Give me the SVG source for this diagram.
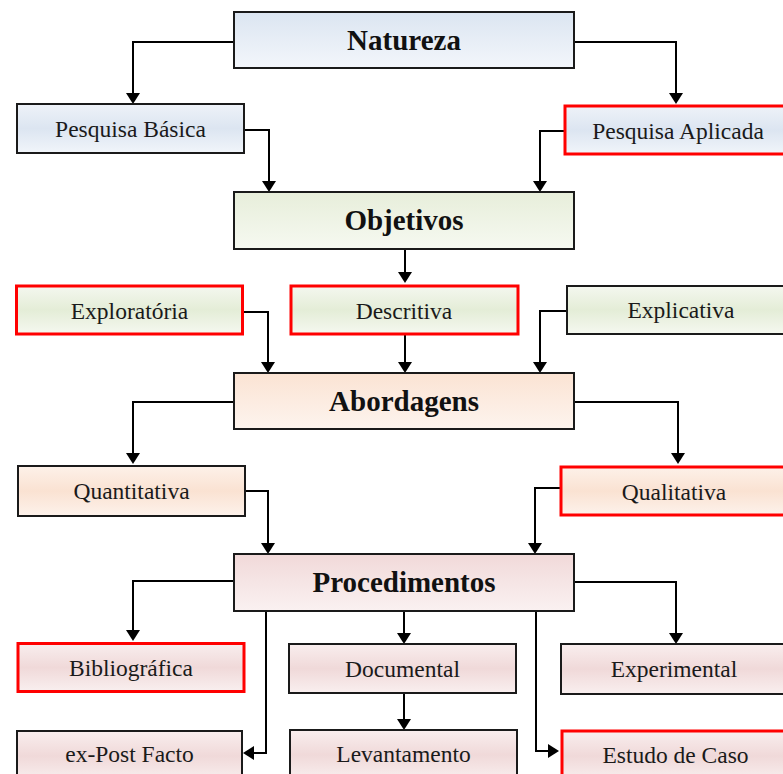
<svg xmlns="http://www.w3.org/2000/svg" width="783" height="774" viewBox="0 0 783 774">
  <style>
    .box { stroke: #1a1a1a; stroke-width: 2; }
    .hl { stroke: #ff0000; stroke-width: 3; }
    text { font-family: "Liberation Serif", Tinos, "Times New Roman", Times, "Nimbus Roman", "Nimbus Roman No9 L", FreeSerif, serif; text-anchor: middle; }
    .title { font-size: 29px; font-weight: bold; fill: #111; }
    .label { font-size: 23.5px; fill: #1a1a1a; }
    .conn { fill: none; stroke: #000; stroke-width: 2; marker-end: url(#arrow); }
  </style>
  <defs>
    <marker id="arrow" markerUnits="userSpaceOnUse" markerWidth="11" markerHeight="14" viewBox="0 0 11 14" refX="9" refY="7" orient="auto">
      <path d="M0,0 L11,7 L0,14 z" fill="#000"/>
    </marker>
    <!-- header boxes: darker top fading to light -->
    <linearGradient id="gBlueT" x1="0" y1="0" x2="0" y2="1">
      <stop offset="0" stop-color="#dbe5f1"/><stop offset="1" stop-color="#f3f6fb"/>
    </linearGradient>
    <linearGradient id="gGreenT" x1="0" y1="0" x2="0" y2="1">
      <stop offset="0" stop-color="#e7eeda"/><stop offset="1" stop-color="#f6f9f1"/>
    </linearGradient>
    <linearGradient id="gPeachT" x1="0" y1="0" x2="0" y2="1">
      <stop offset="0" stop-color="#fbe3d3"/><stop offset="1" stop-color="#fdf4ee"/>
    </linearGradient>
    <linearGradient id="gPinkT" x1="0" y1="0" x2="0" y2="1">
      <stop offset="0" stop-color="#f1d9d9"/><stop offset="1" stop-color="#faf1f1"/>
    </linearGradient>
    <!-- option boxes: light top, tinted band, light bottom -->
    <linearGradient id="gBlue" x1="0" y1="0" x2="0" y2="1">
      <stop offset="0" stop-color="#eef2f8"/><stop offset="0.5" stop-color="#dce5f1"/><stop offset="1" stop-color="#f1f5fa"/>
    </linearGradient>
    <linearGradient id="gGreen" x1="0" y1="0" x2="0" y2="1">
      <stop offset="0" stop-color="#f4f7ef"/><stop offset="0.5" stop-color="#e4edd7"/><stop offset="1" stop-color="#f5f8f0"/>
    </linearGradient>
    <linearGradient id="gPeach" x1="0" y1="0" x2="0" y2="1">
      <stop offset="0" stop-color="#fdf1e9"/><stop offset="0.5" stop-color="#fae2d2"/><stop offset="1" stop-color="#fdf2eb"/>
    </linearGradient>
    <linearGradient id="gPink" x1="0" y1="0" x2="0" y2="1">
      <stop offset="0" stop-color="#f9eeee"/><stop offset="0.5" stop-color="#f0d9d9"/><stop offset="1" stop-color="#f9efef"/>
    </linearGradient>
  </defs>

  <!-- connectors -->
  <g id="connectors">
    <path class="conn" d="M234,42 H133 V102"/>
    <path class="conn" d="M574,42 H676 V102"/>
    <path class="conn" d="M244,130 H269 V190"/>
    <path class="conn" d="M564,131 H540 V190"/>
    <path class="conn" d="M405,249 V281"/>
    <path class="conn" d="M243,312 H268 V371"/>
    <path class="conn" d="M405,335 V371"/>
    <path class="conn" d="M567,311 H540 V371"/>
    <path class="conn" d="M234,402 H133 V462"/>
    <path class="conn" d="M574,402 H678 V462"/>
    <path class="conn" d="M245,491 H268 V552"/>
    <path class="conn" d="M560,488 H535 V552"/>
    <path class="conn" d="M234,581 H133 V639"/>
    <path class="conn" d="M404,611 V642"/>
    <path class="conn" d="M404,693 V728"/>
    <path class="conn" d="M574,582 H676 V642"/>
    <path class="conn" d="M266,611 V753 H245"/>
    <path class="conn" d="M536,611 V751 H557"/>
  </g>

  <!-- Natureza level -->
  <g id="natureza">
    <rect class="box" x="234" y="12" width="340" height="56" fill="url(#gBlueT)"/>
    <text class="title" x="404" y="50">Natureza</text>
  </g>
  <g id="pesquisa-basica">
    <rect class="box" x="17" y="104" width="227" height="49" fill="url(#gBlue)"/>
    <text class="label" x="130.5" y="137">Pesquisa Básica</text>
  </g>
  <g id="pesquisa-aplicada">
    <rect class="hl" x="565" y="106" width="228" height="48" fill="url(#gBlue)"/>
    <text class="label" x="678" y="139">Pesquisa Aplicada</text>
  </g>

  <!-- Objetivos level -->
  <g id="objetivos">
    <rect class="box" x="234" y="192" width="340" height="57" fill="url(#gGreenT)"/>
    <text class="title" x="404" y="230">Objetivos</text>
  </g>
  <g id="exploratoria">
    <rect class="hl" x="16.5" y="286" width="226" height="48" fill="url(#gGreen)"/>
    <text class="label" x="129.5" y="319">Exploratória</text>
  </g>
  <g id="descritiva">
    <rect class="hl" x="291" y="286" width="227" height="48" fill="url(#gGreen)"/>
    <text class="label" x="404" y="319">Descritiva</text>
  </g>
  <g id="explicativa">
    <rect class="box" x="567" y="286" width="228" height="48" fill="url(#gGreen)"/>
    <text class="label" x="681" y="318">Explicativa</text>
  </g>

  <!-- Abordagens level -->
  <g id="abordagens">
    <rect class="box" x="234" y="373" width="340" height="56" fill="url(#gPeachT)"/>
    <text class="title" x="404" y="411">Abordagens</text>
  </g>
  <g id="quantitativa">
    <rect class="box" x="18" y="466" width="227" height="50" fill="url(#gPeach)"/>
    <text class="label" x="131.5" y="499">Quantitativa</text>
  </g>
  <g id="qualitativa">
    <rect class="hl" x="561" y="467" width="228" height="48" fill="url(#gPeach)"/>
    <text class="label" x="674" y="500">Qualitativa</text>
  </g>

  <!-- Procedimentos level -->
  <g id="procedimentos">
    <rect class="box" x="234" y="554" width="340" height="57" fill="url(#gPinkT)"/>
    <text class="title" x="404" y="592">Procedimentos</text>
  </g>
  <g id="bibliografica">
    <rect class="hl" x="18" y="643.5" width="226" height="48" fill="url(#gPink)"/>
    <text class="label" x="131" y="676">Bibliográfica</text>
  </g>
  <g id="documental">
    <rect class="box" x="289" y="644" width="227" height="49" fill="url(#gPink)"/>
    <text class="label" x="402.5" y="677">Documental</text>
  </g>
  <g id="experimental">
    <rect class="box" x="561" y="644" width="228" height="50" fill="url(#gPink)"/>
    <text class="label" x="674" y="677">Experimental</text>
  </g>
  <g id="ex-post-facto">
    <rect class="box" x="17" y="731" width="225" height="50" fill="url(#gPink)"/>
    <text class="label" x="129.5" y="762">ex-Post Facto</text>
  </g>
  <g id="levantamento">
    <rect class="box" x="290" y="730" width="227" height="50" fill="url(#gPink)"/>
    <text class="label" x="403.5" y="762">Levantamento</text>
  </g>
  <g id="estudo-de-caso">
    <rect class="hl" x="562" y="731" width="228" height="50" fill="url(#gPink)"/>
    <text class="label" x="675.5" y="763">Estudo de Caso</text>
  </g>
</svg>
